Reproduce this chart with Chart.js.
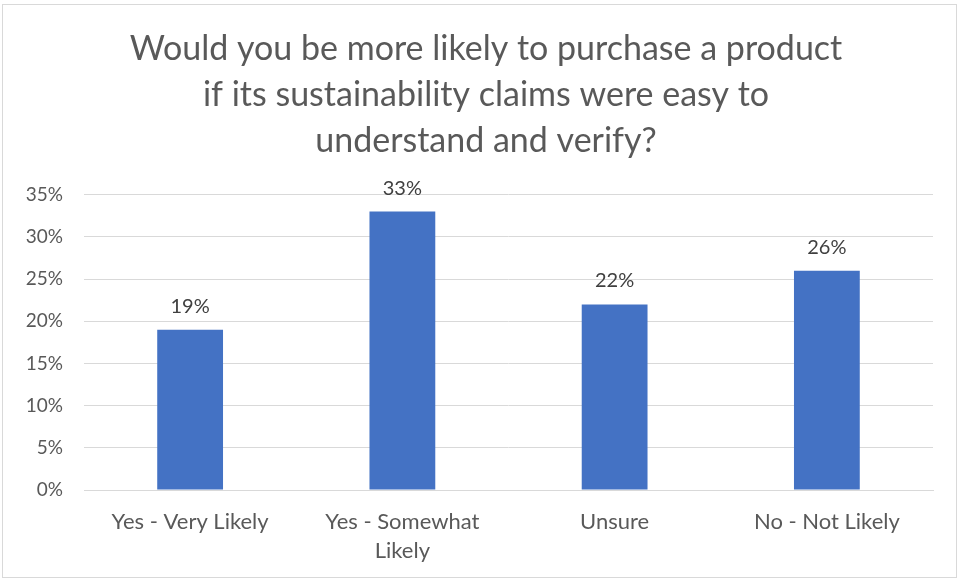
<!DOCTYPE html>
<html>
<head>
<meta charset="utf-8">
<script src="https://cdn.jsdelivr.net/npm/chart.js@4.4.1/dist/chart.umd.min.js"></script>
<style>
  html, body { margin: 0; padding: 0; background: #fff; }
  .frame {
    position: absolute; left: 2px; top: 4px;
    width: 953px; height: 572px;
    border: 1px solid #d9d9d9; background: #fff;
  }
  canvas { display: block; }
</style>
</head>
<body>
<div class="frame"><canvas id="chart" width="953" height="572"></canvas></div>
<script>
  const titleLines = [
    'Would you be more likely to purchase a product',
    'if its sustainability claims were easy to',
    'understand and verify?'
  ];
  const categories = [
    'Yes - Very Likely',
    ['Yes - Somewhat', 'Likely'],
    'Unsure',
    'No - Not Likely'
  ];
  const shares = [19, 33, 22, 26];
  const yTicks = [0, 5, 10, 15, 20, 25, 30, 35];

  const FONT = "Lato, 'Open Sans', sans-serif";

  // writes the percentage above every bar
  const valueLabels = {
    id: 'valueLabels',
    afterDatasetsDraw(chart) {
      const ctx = chart.ctx;
      const meta = chart.getDatasetMeta(0);
      ctx.save();
      ctx.font = `20px ${FONT}`;
      ctx.fillStyle = '#404040';
      ctx.textAlign = 'center';
      ctx.textBaseline = 'alphabetic';
      meta.data.forEach((bar, i) => {
        ctx.fillText(shares[i] + '%', bar.x, bar.y - 17);
      });
      ctx.restore();
    }
  };

  new Chart(document.getElementById('chart'), {
    type: 'bar',
    data: {
      labels: categories,
      datasets: [{
        data: shares,
        backgroundColor: '#4472c4',
        borderWidth: 0,
        barPercentage: 0.31,
        categoryPercentage: 1
      }]
    },
    options: {
      responsive: false,
      animation: false,
      layout: { padding: { left: 13, right: 0, top: 0, bottom: 0 } },
      plugins: {
        legend: { display: false },
        tooltip: { enabled: false },
        title: {
          display: true,
          text: titleLines,
          color: '#595959',
          font: { family: FONT, size: 34, weight: 'normal', lineHeight: 1.35 },
          padding: { top: 21, bottom: 31 }
        }
      },
      scales: {
        x: {
          grid: { display: false },
          border: { color: '#d9d9d9', width: 1 },
          ticks: {
            color: '#595959',
            font: { family: FONT, size: 22, lineHeight: 1.32 },
            padding: 9,
            maxRotation: 0,
            autoSkip: false
          },
          afterFit(scale) { scale.height = 87; }
        },
        y: {
          min: 0,
          max: 35,
          afterBuildTicks(scale) { scale.ticks = yTicks.map(v => ({ value: v })); },
          grid: { color: '#d9d9d9', lineWidth: 1, drawTicks: false },
          border: { display: false },
          ticks: {
            color: '#595959',
            font: { family: FONT, size: 19 },
            padding: 21,
            callback: v => v + '%'
          },
          afterFit(scale) { scale.width = 68; }
        },
        // empty strip keeping the plot clear of the right edge
        gap: {
          type: 'linear',
          position: 'right',
          grid: { display: false },
          border: { display: false },
          ticks: { display: false },
          afterFit(scale) { scale.width = 23; }
        }
      }
    },
    plugins: [valueLabels]
  });
</script>
</body>
</html>
